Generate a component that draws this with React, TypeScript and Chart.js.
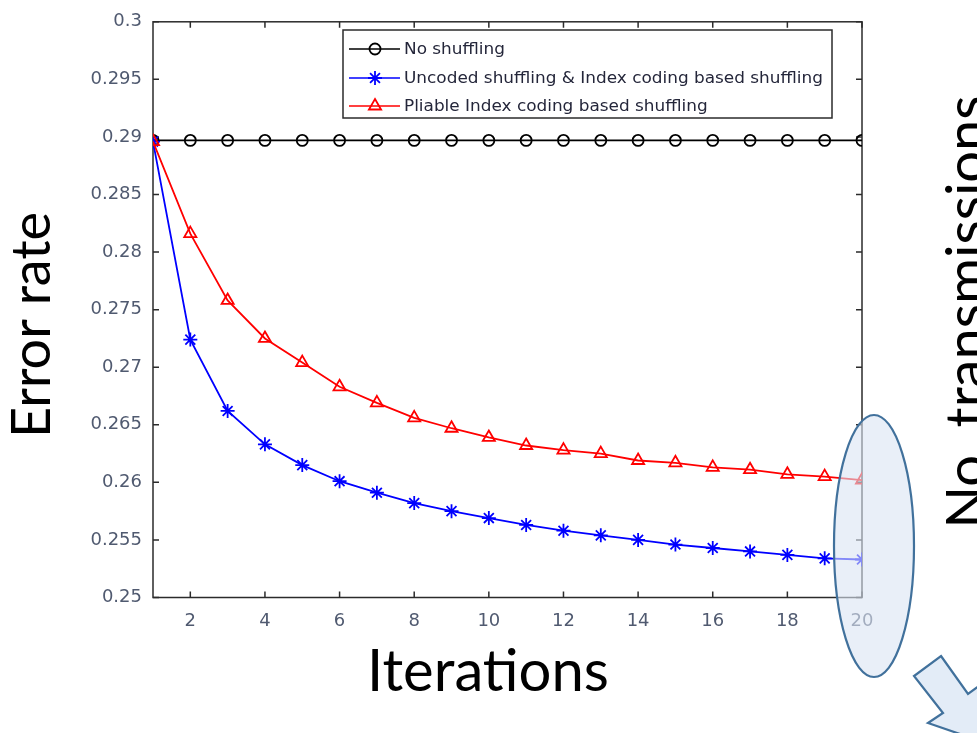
import React, { useEffect, useRef } from "react";
import { Chart, registerables } from "chart.js";

Chart.register(...registerables);

const iterations = [1, 2, 3, 4, 5, 6, 7, 8, 9, 10, 11, 12, 13, 14, 15, 16, 17, 18, 19, 20];
const noShuffling = [0.2897, 0.2897, 0.2897, 0.2897, 0.2897, 0.2897, 0.2897, 0.2897, 0.2897, 0.2897, 0.2897, 0.2897, 0.2897, 0.2897, 0.2897, 0.2897, 0.2897, 0.2897, 0.2897, 0.2897];
const uncodedShuffling = [0.2896, 0.2724, 0.2662, 0.2633, 0.2615, 0.2601, 0.2591, 0.2582, 0.2575, 0.2569, 0.2563, 0.2558, 0.2554, 0.255, 0.2546, 0.2543, 0.254, 0.2537, 0.2534, 0.2533];
const pliableShuffling = [0.2896, 0.2816, 0.2758, 0.2725, 0.2704, 0.2683, 0.2669, 0.2656, 0.2647, 0.2639, 0.2632, 0.2628, 0.2625, 0.2619, 0.2617, 0.2613, 0.2611, 0.2607, 0.2605, 0.2602];
const seriesLabels = [
  "No shuffling",
  "Uncoded shuffling & Index coding based shuffling",
  "Pliable Index coding based shuffling",
];
const xTickValues = [2, 4, 6, 8, 10, 12, 14, 16, 18, 20];
const yTickValues = [0.25, 0.255, 0.26, 0.265, 0.27, 0.275, 0.28, 0.285, 0.29, 0.295, 0.3];
const xTitle = "Iterations";
const yTitle = "Error rate";
const sideTitle = "No. transmissions";

const TITLE_FONT = "Lato, 'Open Sans', sans-serif";
const TICK_FONT = "'DejaVu Sans', sans-serif";

const decorations = {
  id: "decorations",
  beforeDraw(chart: any) {
    const ctx = chart.ctx;
    ctx.save();
    ctx.fillStyle = "#ffffff";
    ctx.fillRect(0, 0, chart.width, chart.height);
    ctx.restore();
  },
  beforeDatasetsDraw(chart: any) {
    const ctx = chart.ctx;
    const { left, right, top, bottom } = chart.chartArea;
    const xs = chart.scales.x;
    const ys = chart.scales.y;
    ctx.save();
    ctx.strokeStyle = "#2b2b2b";
    ctx.lineWidth = 1.5;
    ctx.strokeRect(left, top, right - left, bottom - top);
    ctx.beginPath();
    xTickValues.forEach((v) => {
      const px = xs.getPixelForValue(v);
      ctx.moveTo(px, bottom);
      ctx.lineTo(px, bottom - 6);
      ctx.moveTo(px, top);
      ctx.lineTo(px, top + 6);
    });
    yTickValues.forEach((v) => {
      const py = ys.getPixelForValue(v);
      ctx.moveTo(left, py);
      ctx.lineTo(left + 6, py);
      ctx.moveTo(right, py);
      ctx.lineTo(right - 6, py);
    });
    ctx.stroke();
    ctx.restore();
  },
  afterDatasetsDraw(chart: any) {
    const ctx = chart.ctx;
    // legend box
    const bx = 343, by = 30, bw = 489, bh = 88;
    ctx.save();
    ctx.fillStyle = "#ffffff";
    ctx.fillRect(bx, by, bw, bh);
    ctx.strokeStyle = "#2b2b2b";
    ctx.lineWidth = 1.5;
    ctx.strokeRect(bx, by, bw, bh);
    const rows = [49, 78, 106];
    chart.data.datasets.forEach((ds: any, i: number) => {
      const y = rows[i];
      ctx.strokeStyle = ds.borderColor;
      ctx.lineWidth = 1.6;
      ctx.beginPath();
      ctx.moveTo(349, y);
      ctx.lineTo(400, y);
      ctx.stroke();
      ctx.lineWidth = ds.pointBorderWidth;
      ctx.beginPath();
      const cx = 375;
      const r = ds.pointRadius;
      if (ds.pointStyle === "circle") {
        ctx.arc(cx, y, r, 0, Math.PI * 2);
      } else if (ds.pointStyle === "star") {
        for (let k = 0; k < 4; k++) {
          const a = (k * Math.PI) / 4;
          ctx.moveTo(cx - Math.cos(a) * r, y - Math.sin(a) * r);
          ctx.lineTo(cx + Math.cos(a) * r, y + Math.sin(a) * r);
        }
      } else {
        ctx.moveTo(cx, y - r);
        ctx.lineTo(cx + r * 0.87, y + r * 0.5);
        ctx.lineTo(cx - r * 0.87, y + r * 0.5);
        ctx.closePath();
      }
      ctx.stroke();
      ctx.save();
      ctx.translate(404, y + 1);
      ctx.scale(1.055, 1);
      ctx.fillStyle = "#24263a";
      ctx.font = `16px ${TICK_FONT}`;
      ctx.textBaseline = "middle";
      ctx.textAlign = "left";
      ctx.fillText(ds.label, 0, 0);
      ctx.restore();
    });
    ctx.restore();
  },
  afterDraw(chart: any) {
    const ctx = chart.ctx;
    ctx.save();
    // axis titles
    ctx.fillStyle = "#000000";
    ctx.font = `58px ${TITLE_FONT}`;
    ctx.textAlign = "center";
    ctx.textBaseline = "alphabetic";
    ctx.fillText(xTitle, 488, 691);
    ctx.font = `54px ${TITLE_FONT}`;
    ctx.save();
    ctx.translate(50, 325);
    ctx.rotate(-Math.PI / 2);
    ctx.fillText(yTitle, 0, 0);
    ctx.restore();
    ctx.font = `56px ${TITLE_FONT}`;
    ctx.save();
    ctx.translate(986, 312);
    ctx.rotate(-Math.PI / 2);
    ctx.fillText(sideTitle, 0, 0);
    ctx.restore();

    // highlight ellipse
    ctx.beginPath();
    ctx.ellipse(874, 546, 40, 131, 0, 0, Math.PI * 2);
    ctx.fillStyle = "rgba(218, 229, 243, 0.6)";
    ctx.fill();
    ctx.strokeStyle = "#41719c";
    ctx.lineWidth = 2.2;
    ctx.stroke();

    // arrow
    ctx.beginPath();
    ctx.moveTo(941, 656);
    ctx.lineTo(968, 694);
    ctx.lineTo(990, 678);
    ctx.lineTo(992, 745);
    ctx.lineTo(928, 723);
    ctx.lineTo(943, 713);
    ctx.lineTo(914, 676);
    ctx.closePath();
    ctx.fillStyle = "#e3ecf7";
    ctx.fill();
    ctx.strokeStyle = "#41719c";
    ctx.lineWidth = 2.2;
    ctx.stroke();
    ctx.restore();
  },
};

export default function App() {
  const canvasRef = useRef<HTMLCanvasElement | null>(null);

  useEffect(() => {
    if (!canvasRef.current) return;
    const chart = new Chart(canvasRef.current, {
      type: "line",
      data: {
        datasets: [
          {
            label: seriesLabels[0],
            data: iterations.map((x, i) => ({ x, y: noShuffling[i] })),
            borderColor: "#000000",
            backgroundColor: "rgba(0,0,0,0)",
            borderWidth: 1.8,
            pointStyle: "circle",
            pointRadius: 5.5,
            pointBorderWidth: 1.8,
            pointBackgroundColor: "rgba(0,0,0,0)",
            pointBorderColor: "#000000",
            order: 3,
          },
          {
            label: seriesLabels[1],
            data: iterations.map((x, i) => ({ x, y: uncodedShuffling[i] })),
            borderColor: "#0000ff",
            backgroundColor: "rgba(0,0,0,0)",
            borderWidth: 1.8,
            pointStyle: "star",
            pointRadius: 7,
            pointBorderWidth: 1.8,
            pointBackgroundColor: "rgba(0,0,0,0)",
            pointBorderColor: "#0000ff",
            order: 2,
          },
          {
            label: seriesLabels[2],
            data: iterations.map((x, i) => ({ x, y: pliableShuffling[i] })),
            borderColor: "#ff0000",
            backgroundColor: "rgba(0,0,0,0)",
            borderWidth: 1.8,
            pointStyle: "triangle",
            pointRadius: 7,
            pointBorderWidth: 1.8,
            pointBackgroundColor: "rgba(0,0,0,0)",
            pointBorderColor: "#ff0000",
            order: 1,
          },
        ],
      },
      options: {
        responsive: false,
        animation: false,
        events: [],
        layout: { padding: { left: 73, right: 115, top: 18, bottom: 95.5 } },
        plugins: {
          legend: { display: false },
          tooltip: { enabled: false },
          title: { display: false },
        },
        scales: {
          x: {
            type: "linear",
            min: 1,
            max: 20,
            grid: { display: false, drawTicks: false },
            border: { display: false },
            afterBuildTicks: (scale: any) => {
              scale.ticks = xTickValues.map((v) => ({ value: v }));
            },
            afterFit: (scale: any) => {
              scale.height = 40;
            },
            ticks: {
              padding: 13,
              maxRotation: 0,
              autoSkip: false,
              color: "#505a70",
              font: { family: TICK_FONT, size: 18 },
              callback: (v: any) => String(v),
            },
          },
          y: {
            type: "linear",
            min: 0.25,
            max: 0.3,
            grid: { display: false, drawTicks: false },
            border: { display: false },
            afterBuildTicks: (scale: any) => {
              scale.ticks = yTickValues.map((v) => ({ value: v }));
            },
            afterFit: (scale: any) => {
              scale.width = 80;
            },
            ticks: {
              padding: 11,
              autoSkip: false,
              color: "#505a70",
              font: { family: TICK_FONT, size: 18 },
              callback: (v: any) => String(v),
            },
          },
        },
      },
      plugins: [decorations],
    } as any);
    return () => chart.destroy();
  }, []);

  return (
    <div style={{ position: "absolute", left: 0, top: 0, width: 977, height: 733, overflow: "hidden" }}>
      <canvas ref={canvasRef} width={977} height={733} style={{ display: "block" }} />
    </div>
  );
}
